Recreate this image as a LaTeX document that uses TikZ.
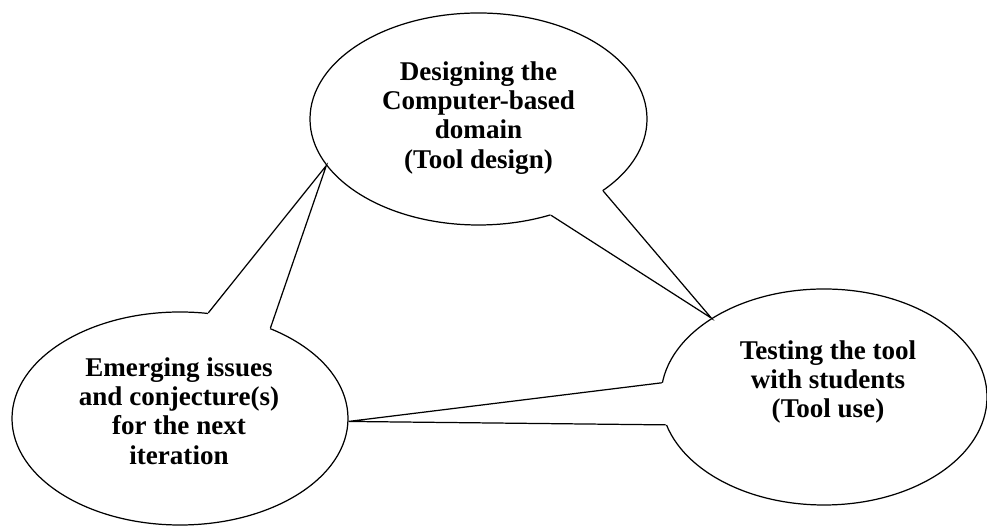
\documentclass[tikz,border=0pt]{standalone}
\usepackage{fontspec}
\setmainfont{Liberation Serif}
\usepackage{tikz}
\usetikzlibrary{shapes.geometric}

\tikzset{
  bubble/.style={draw, ellipse, line width=0.7pt, inner sep=0pt},
  txt/.style={font=\fontsize{15.4}{16.6}\selectfont\bfseries, align=center}
}

\begin{document}
\begin{tikzpicture}[line width=0.7pt]
			\useasboundingbox (0,0) rectangle (19.74,10.54);
			
			% the three ovals
			\node[bubble, minimum width=6.74cm, minimum height=4.24cm] (design) at (9.57, 8.16) {};
			\node[bubble, minimum width=6.72cm, minimum height=4.26cm] (emerge) at (3.6, 2.17) {};
			\node[bubble, minimum width=6.52cm, minimum height=4.32cm] (test) at (16.48, 2.6) {};
			
			% tails: blank out the oval edge, then draw the two sides
			\fill[white] (design.center) -- (design.-30.4) -- (test.145.1) -- (design.-53) -- cycle;
			\draw (design.-30.4) -- (test.145.1) -- (design.-53);
			
			\fill[white] (test.center) -- (test.175.8) -- (emerge.-1.2) -- (test.190.7) -- cycle;
			\draw (test.175.8) -- (emerge.-1.2) -- (test.190.7);
			
			\fill[white] (emerge.center) -- (emerge.75.6) -- (design.197.9) -- (emerge.45.8) -- cycle;
			\draw (emerge.75.6) -- (design.197.9) -- (emerge.45.8);
			
			% texts
			\node[txt] (designtxt) at (9.57, 8.18) {Designing the\\Computer-based\\domain\\(Tool design)};
			\node[txt] (emergetxt) at (3.58, 2.32) {Emerging issues\\and conjecture(s)\\for the next\\iteration};
			\node[txt] (testtxt) at (16.56, 2.9) {Testing the tool\\with students\\(Tool use)};
		\end{tikzpicture}
\end{document}
